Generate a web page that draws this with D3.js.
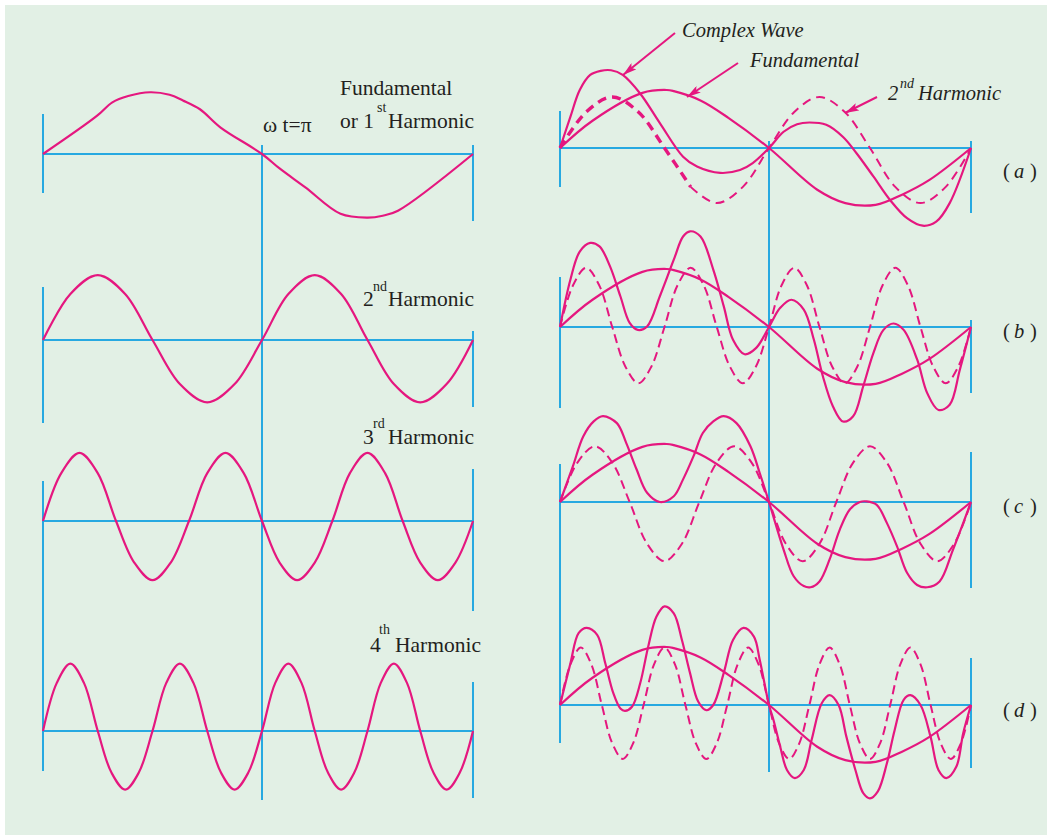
<!DOCTYPE html>
<html>
<head>
<meta charset="utf-8">
<script src="https://cdn.jsdelivr.net/npm/d3@7"></script>
<style>
body { margin: 0; background: #fff; }
text { font-family: "Liberation Serif", "Times New Roman", serif; fill: #231f20; }
</style>
</head>
<body>
<svg width="1047" height="836"></svg>
<script>
// x in degrees of wt (0..360), y in units of one harmonic amplitude

// left column: fundamental and single harmonics
const fundLeft = [[0,0],[44,0.60],[57,0.82],[70,0.92],[88,0.98],[104,0.94],[115,0.85],[129,0.71],[146,0.42],[180,0],
  [195,-0.23],[217,-0.53],[247,-0.95],[270,-1.01],[283,-0.98],[296,-0.90],[360,0]];
// equally spaced samples (1/8 period apart)
const harm2Left = [0,0.73,1.03,0.73,0,-0.70,-0.99,-0.70, 0,0.73,1.03,0.73,0,-0.70,-0.99,-0.70, 0];
const harm3Left = [0,0.76,1.08,0.76,0,-0.66,-0.94,-0.66, 0,0.76,1.08,0.76,0,-0.66,-0.94,-0.66,
  0,0.76,1.08,0.76,0,-0.66,-0.94,-0.66, 0];
const harm4Left = [0,0.76,1.07,0.76,0,-0.66,-0.93,-0.66, 0,0.76,1.07,0.76,0,-0.66,-0.93,-0.66,
  0,0.76,1.07,0.76,0,-0.66,-0.93,-0.66, 0,0.76,1.07,0.76,0,-0.66,-0.93,-0.66, 0];

// right column: fundamental (same in a-d), dashed harmonic, complex wave
const fundRight = [[0,0],[28,0.47],[71,0.95],[92,1.0],[98,0.98],[121,0.82],[145,0.52],[180,0],
  [223,-0.72],[248,-0.95],[275,-0.98],[299,-0.80],[323,-0.55],[360,0]];
const harm2Right = [0,0.62,0.88,0.62,0,-0.67,-0.95,-0.67, 0,0.62,0.88,0.62,0,-0.67,-0.95,-0.67, 0];
const harm4Right = [0,0.72,1.02,0.72,0,-0.68,-0.97,-0.68, 0,0.72,1.02,0.72,0,-0.68,-0.97,-0.68,
  0,0.72,1.02,0.72,0,-0.68,-0.97,-0.68, 0,0.72,1.02,0.72,0,-0.68,-0.97,-0.68, 0];
const harm3Right = [0,0.68,0.96,0.68,0,-0.72,-1.02,-0.72, 0,0.68,0.96,0.68,0,-0.72,-1.02,-0.72,
  0,0.68,0.96,0.68,0,-0.72,-1.02,-0.72, 0];
const harm5Right = [0,0.70,0.99,0.70,0,-0.66,-0.93,-0.66, 0,0.70,0.99,0.70,0,-0.66,-0.93,-0.66,
  0,0.70,0.99,0.70,0,-0.66,-0.93,-0.66, 0,0.70,0.99,0.70,0,-0.66,-0.93,-0.66,
  0,0.70,0.99,0.70,0,-0.66,-0.93,-0.66, 0];

const complexA = [[0,0],[9,0.54],[17,1.0],[26,1.26],[35,1.33],[44,1.34],[54,1.26],[69,0.94],[86,0.43],[106,-0.15],
  [118,-0.32],[138,-0.43],[155,-0.38],[166,-0.26],[180,0],[193,0.28],[205,0.41],[216,0.44],[231,0.40],[246,0.19],
  [258,-0.09],[273,-0.49],[288,-0.90],[303,-1.21],[317,-1.34],[329,-1.27],[341,-0.95],[360,0]];
const complexB = [[0,0],[9,0.82],[17,1.30],[26,1.45],[34,1.39],[43,1.05],[52,0.53],[60,0.07],[67,-0.05],[75,0.01],
  [86,0.53],[98,1.16],[106,1.56],[112,1.65],[121,1.56],[132,0.99],[141,0.36],[149,-0.22],[159,-0.47],[169,-0.36],
  [180,0],[190,0.33],[200,0.47],[211,0.30],[220,-0.22],[228,-0.85],[237,-1.37],[246,-1.63],[255,-1.54],[264,-1.02],
  [273,-0.45],[282,-0.05],[291,0.06],[300,-0.05],[312,-0.56],[321,-1.14],[331,-1.43],[341,-1.34],[350,-0.74],[360,0]];
const complexC = [[0,0],[11,0.61],[20,1.13],[29,1.39],[37,1.48],[49,1.36],[57,1.02],[66,0.56],[75,0.16],[86,0],
  [98,0.10],[106,0.39],[115,0.79],[123,1.19],[132,1.39],[141,1.48],[152,1.36],[164,0.96],[172,0.50],[180,0],
  [193,-0.82],[202,-1.28],[211,-1.45],[217,-1.47],[225,-1.37],[234,-0.99],[243,-0.48],[252,-0.13],[261,0],[267,0.01],
  [276,-0.05],[285,-0.36],[294,-0.76],[303,-1.22],[312,-1.43],[321,-1.47],[332,-1.37],[344,-0.82],[360,0]];
const complexD = [[0,0],[9,0.72],[16,1.24],[23,1.33],[32,1.21],[39,0.72],[46,0.20],[52,-0.06],[56,-0.10],[62,-0.03],
  [69,0.37],[76,1.01],[83,1.52],[90,1.70],[98,1.58],[105,1.12],[112,0.55],[119,0.06],[126,-0.09],[132,0],
  [141,0.55],[149,1.12],[158,1.33],[167,1.18],[172,0.78],[180,0],[184,-0.26],[190,-0.72],[196,-1.12],[203,-1.26],
  [211,-1.12],[218,-0.60],[227,0.03],[234,0.17],[242,0],[249,-0.55],[257,-1.12],[264,-1.52],[270,-1.61],[277,-1.49],
  [285,-1.01],[292,-0.43],[300,0.09],[306,0.17],[315,0],[324,-0.55],[331,-1.12],[338,-1.26],[347,-1.06],[353,-0.49],[360,0]];

const pink = "#e5177f", blue = "#27a9e1";
const svg = d3.select("svg");

svg.append("rect").attr("x", 5).attr("y", 5).attr("width", 1042).attr("height", 830).attr("fill", "#e2f0e5");

const defs = svg.append("defs");
defs.append("marker").attr("id", "head").attr("viewBox", "0 0 14 8")
  .attr("refX", 14).attr("refY", 4).attr("markerWidth", 14).attr("markerHeight", 8)
  .attr("markerUnits", "userSpaceOnUse").attr("orient", "auto")
  .append("path").attr("d", "M0,0 L14,4 L0,8 L3,4 z").attr("fill", pink);

const spread = vals => vals.map((v, i) => [i * 360 / (vals.length - 1), v]);

const xL = d3.scaleLinear().domain([0, 180, 360]).range([43, 262, 473]);
const xR = d3.scaleLinear().domain([0, 180, 360]).range([560, 769, 971]);

function draw(x, axis, unit, data, opts) {
  const y = d3.scaleLinear().domain([-1, 1]).range([axis + unit, axis - unit]);
  const line = d3.line().x(d => x(d[0])).y(d => y(d[1])).curve(d3.curveCatmullRom.alpha(0.5));
  const p = svg.append("path").datum(data).attr("d", line)
    .attr("fill", "none").attr("stroke", pink).attr("stroke-width", (opts && opts.width) || 2.2)
    .attr("stroke-linejoin", "round");
  if (opts && opts.dash) p.attr("stroke-dasharray", opts.dash);
  return p;
}

function vline(x, y1, y2) {
  svg.append("line").attr("x1", x).attr("x2", x).attr("y1", y1).attr("y2", y2)
    .attr("stroke", blue).attr("stroke-width", 2);
}
function hline(x1, x2, y) {
  svg.append("line").attr("x1", x1).attr("x2", x2).attr("y1", y).attr("y2", y)
    .attr("stroke", blue).attr("stroke-width", 2);
}

// ---------- left column ----------
const leftAxes = [154, 340, 521, 731];
leftAxes.forEach(a => hline(xL(0), xL(360), a));
vline(xL(0), 114, 193); vline(xL(0), 287, 423); vline(xL(0), 481, 771);
vline(xL(180), 145, 800);
vline(xL(360), 145, 221); vline(xL(360), 331, 407); vline(xL(360), 469, 611); vline(xL(360), 682, 798);

draw(xL, leftAxes[0], 63, fundLeft);
draw(xL, leftAxes[1], 63, spread(harm2Left));
draw(xL, leftAxes[2], 63, spread(harm3Left));
draw(xL, leftAxes[3], 63, spread(harm4Left));

// ---------- right column ----------
const rightAxes = [148, 327, 502, 705];
rightAxes.forEach(a => hline(xR(0), xR(360), a));
vline(xR(0), 111, 187); vline(xR(0), 277, 408); vline(xR(0), 464, 743);
vline(xR(180), 141, 772);
vline(xR(360), 141, 213); vline(xR(360), 320, 393); vline(xR(360), 452, 588); vline(xR(360), 658, 768);

const dashed = [spread(harm2Right), spread(harm4Right), spread(harm3Right), spread(harm5Right)];
const complex = [complexA, complexB, complexC, complexD];
rightAxes.forEach((a, i) => {
  draw(xR, a, 58, fundRight);
  if (i === 0) {
    draw(xR, a, 58, dashed[i].filter(d => d[0] <= 112.5), { dash: "9,6", width: 3.4 });
    draw(xR, a, 58, dashed[i].filter(d => d[0] >= 112.5), { dash: "9,6", width: 2 });
  } else {
    draw(xR, a, 58, dashed[i], { dash: "9,5", width: 2 });
  }
  draw(xR, a, 58, complex[i]);
});

// ---------- text ----------
function txt(x, y, s, size, italic) {
  return svg.append("text").attr("x", x).attr("y", y).text(s)
    .attr("font-size", size).attr("font-style", italic ? "italic" : null);
}
txt(340, 95, "Fundamental", 21.5);
txt(340, 128, "or 1", 21.5);
txt(377, 112, "st", 14);
txt(388, 128, "Harmonic", 21.5);
txt(263, 132, "\u03c9 t=\u03c0", 21.5);
txt(363, 306, "2", 21.5); txt(373, 291, "nd", 14); txt(388, 306, "Harmonic", 21.5);
txt(363, 444, "3", 21.5); txt(373, 428, "rd", 14); txt(388, 444, "Harmonic", 21.5);
txt(370, 652, "4", 21.5); txt(379, 634, "th", 14); txt(395, 652, "Harmonic", 21.5);

txt(682, 37, "Complex Wave", 20.5, true);
txt(750, 67, "Fundamental", 20.5, true);
txt(888, 100, "2", 20.5, true); txt(900, 88, "nd", 14, true); txt(918, 100, "Harmonic", 20.5, true);

const tags = ["a", "b", "c", "d"];
const tagBase = [178, 338, 513, 717];
tags.forEach((t, i) => {
  txt(1003, tagBase[i], "(", 20.5);
  txt(1014, tagBase[i], t, 20.5, true);
  txt(1030, tagBase[i], ")", 20.5);
});

// pointer arrows
function arrow(x1, y1, x2, y2) {
  svg.append("line").attr("x1", x1).attr("y1", y1).attr("x2", x2).attr("y2", y2)
    .attr("stroke", pink).attr("stroke-width", 2).attr("marker-end", "url(#head)");
}
arrow(675, 33, 623, 75);
arrow(738, 63, 687, 97);
arrow(877, 97, 845, 113);
</script>
</body>
</html>
